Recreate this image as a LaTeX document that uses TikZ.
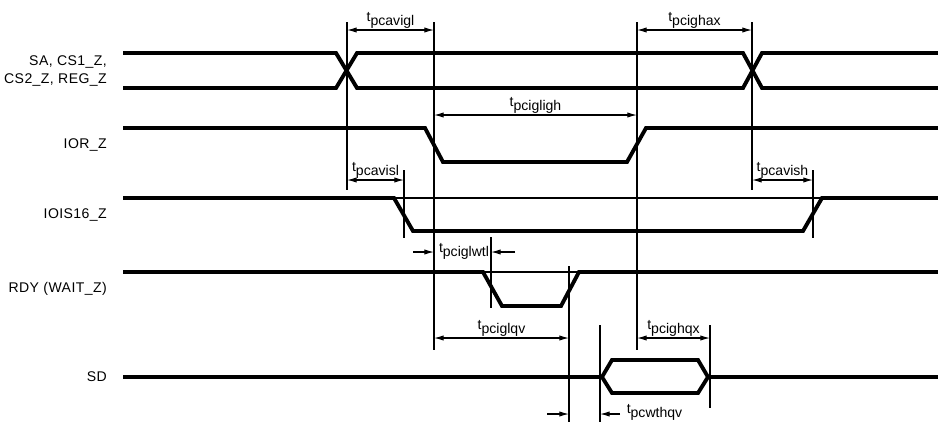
\documentclass[tikz,border=0pt]{standalone}
\usepackage{fontspec}
\setmainfont{Liberation Sans}
\newfontfamily\sigfont{Liberation Sans}[LetterSpace=3]
\usetikzlibrary{arrows.meta}
\newcommand{\tsub}[1]{t\raisebox{-0.55ex}{#1}}

\begin{document}
\begin{tikzpicture}[x=0.02cm, y=-0.02cm,
    sig/.style={line width=2.2pt},
    marker/.style={line width=0.6pt},
    dim/.style={line width=0.6pt},
    signame/.style={anchor=east, align=right, font=\sigfont\fontsize{8}{10.3}\selectfont},
    tlab/.style={font=\fontsize{8}{10}\selectfont, inner sep=0.8pt},
    >={Latex[length=5.5pt,width=3pt]}]
    \useasboundingbox (0,0) rectangle (938,427);

    % signal names
    \node[signame] (SA) at (113,71) {SA, CS1\_Z,\\CS2\_Z, REG\_Z};
    \node[signame] (IOR) at (113,145) {IOR\_Z};
    \node[signame] (IOIS) at (113,215) {IOIS16\_Z};
    \node[signame] (RDY) at (113,289) {RDY (WAIT\_Z)};
    \node[signame] (SD) at (113,377) {SD};

    % waveforms
    \draw[sig] (123,53) -- (336,53) -- (357,88) -- (743,88) -- (762,53) -- (938,53);
    \draw[sig] (123,88) -- (336,88) -- (357,53) -- (743,53) -- (762,88) -- (938,88);
    \draw[sig] (123,128) -- (425,128) -- (443,162) -- (627,162) -- (646,128) -- (938,128);
    \draw[sig] (123,198) -- (394,198) -- (413,231) -- (803,231) -- (822,198) -- (938,198);
    \draw[sig] (123,272) -- (483,272) -- (502,306) -- (561,306) -- (579,272) -- (938,272);
    \draw[sig] (123,377) -- (602,377);
    \draw[sig] (602,377) -- (612,360) -- (698,360) -- (708,377) -- (698,393) -- (612,393) -- cycle;
    \draw[sig] (708,377) -- (938,377);

    % reference levels
    \draw[marker] (394,198) -- (822,198);
    \draw[marker] (483,272) -- (579,272);

    % markers
    \draw[marker] (347,22) -- (347,190);
    \draw[marker] (434,22) -- (434,350);
    \draw[marker] (404,170) -- (404,238);
    \draw[marker] (637,22) -- (637,350);
    \draw[marker] (752,22) -- (752,190);
    \draw[marker] (813,170) -- (813,238);
    \draw[marker] (491,237) -- (491,308);
    \draw[marker] (569,266) -- (569,422);
    \draw[marker] (600,325) -- (600,422);
    \draw[marker] (710,325) -- (710,408);

    % timings
    \draw[dim, <->] (347,30) -- node[tlab, above] (avigl) {\tsub{pcavigl}} (434,30);
    \draw[dim, <->] (637,30) -- node[tlab, above] (ighax) {\tsub{pcighax}} (752,30);
    \draw[dim, <->] (434,115) -- node[tlab, above] (igligh) {\tsub{pcigligh}} (637,115);
    \draw[dim, <->] (347,180) -- node[tlab, above] (avisl) {\tsub{pcavisl}} (404,180);
    \draw[dim, <->] (752,180) -- node[tlab, above] (avish) {\tsub{pcavish}} (813,180);
    \draw[dim, ->] (413,252) -- (434,252);
    \draw[dim, ->] (515,252) -- (491,252);
    \node[tlab] (iglwtl) at (464,251) {\tsub{pciglwtl}};
    \draw[dim, <->] (434,338) -- node[tlab, above] (iglqv) {\tsub{pciglqv}} (569,338);
    \draw[dim, <->] (637,338) -- node[tlab, above] (ighqx) {\tsub{pcighqx}} (710,338);
    \draw[dim, ->] (547,414) -- (569,414);
    \draw[dim, ->] (620,414) -- (600,414);
    \node[tlab, anchor=west] (wthqv) at (625,412) {\tsub{pcwthqv}};
\end{tikzpicture}
\end{document}
